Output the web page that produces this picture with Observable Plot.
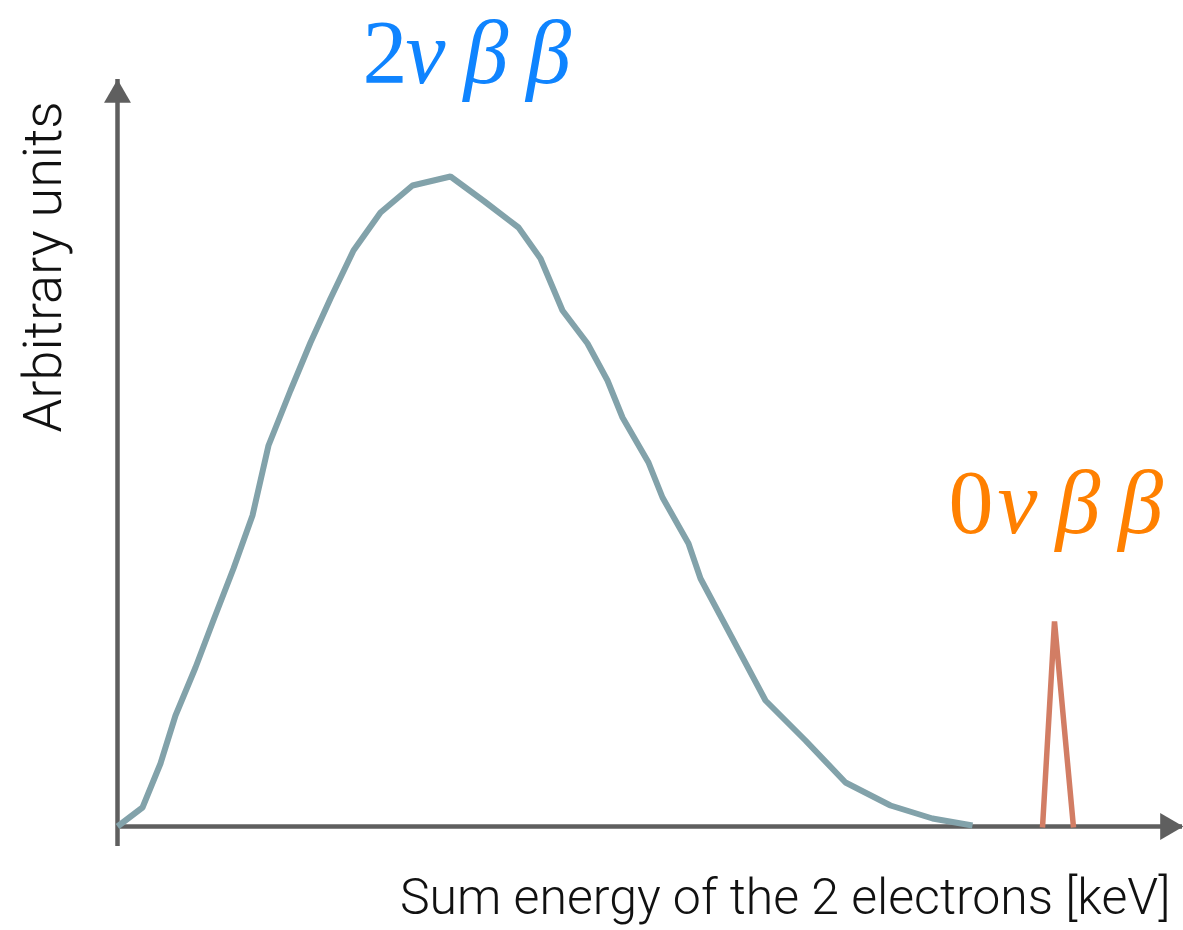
<!DOCTYPE html>
<html><head><meta charset="utf-8">
<script src="https://cdn.jsdelivr.net/npm/d3@7"></script>
<script src="https://cdn.jsdelivr.net/npm/@observablehq/plot@0.6"></script>
<style>
html,body{margin:0;padding:0;background:#fff;overflow:hidden}
.greek text{letter-spacing:18px}
</style>
</head><body><div id="chart"></div>
<script>
// 2νββ continuous spectrum (arbitrary energy units, arbitrary counts)
const energy2nu = [0, 25, 43, 58, 78, 97, 116, 135, 151, 173, 193, 213, 236, 263, 295, 333, 367, 401, 423, 445, 470, 490, 505, 531, 545, 571, 583, 648, 688, 728, 773, 815, 855];
const counts2nu = [0, 19, 63, 111, 159, 209, 258, 311, 381, 436, 484, 528, 576, 614, 641, 650, 625, 599, 568, 516, 483, 446, 409, 364, 329, 283, 248, 126, 86, 44, 21, 8, 1];
// 0νββ peak at the endpoint
const energy0nu = [925, 937, 956];
const counts0nu = [-1, 205, -1];
// axis extents (arrow tips)
const xAxisMax = 1066;
const yAxisMax = 747;
const xLabel = "Sum energy of the 2 electrons [keV]";
const yLabel = "Arbitrary units";
const label2nu = ["2", "νββ"];
const label0nu = ["0", "νββ"];

const curve = energy2nu.map((e, i) => ({e, c: counts2nu[i]}));
const spike = energy0nu.map((e, i) => ({e, c: counts0nu[i]}));

const axisColor = "#5f5f5f";
const arrowR = 10;
const arrowOffset = 2 * Math.sqrt((arrowR * arrowR * Math.PI) / (3 * Math.sqrt(3)));

const mathFont = "'Liberation Serif', 'DejaVu Serif', serif";
const sansFont = "Roboto, 'Liberation Sans', sans-serif";

const chart = Plot.plot({
  width: 1183,
  height: 930,
  margin: 0,
  style: {background: "#fff", overflow: "visible"},
  x: {domain: [0, xAxisMax], range: [117, 1183], axis: null},
  y: {domain: [0, yAxisMax], range: [826, 79], axis: null},
  marks: [
    // axes
    Plot.ruleY([0], {x1: 0, x2: xAxisMax, stroke: axisColor, strokeWidth: 4.5, insetRight: 1}),
    Plot.ruleX([0], {y1: -2, y2: yAxisMax, stroke: axisColor, strokeWidth: 4.5, insetTop: 18}),
    Plot.dot([{e: xAxisMax, c: 0}], {x: "e", y: "c", symbol: "triangle", r: arrowR, fill: axisColor, stroke: "none", rotate: 90, dx: -arrowOffset}),
    Plot.dot([{e: 0, c: yAxisMax}], {x: "e", y: "c", symbol: "triangle", r: arrowR, fill: axisColor, stroke: "none", dy: arrowOffset}),
    // spectra
    Plot.line(curve, {x: "e", y: "c", stroke: "#82a2aa", strokeWidth: 6, strokeLinejoin: "miter", strokeLinecap: "butt"}),
    Plot.line(spike, {x: "e", y: "c", stroke: "#d27d64", strokeWidth: 5.5, strokeLinejoin: "bevel", strokeLinecap: "butt"}),
    // math labels
    Plot.text([label2nu[0]], {frameAnchor: "top-left", dx: 362, dy: 82, text: d => d, textAnchor: "start", lineAnchor: "bottom", fontSize: 90, fill: "#0f84ff", fontFamily: mathFont}),
    Plot.text([label2nu[1]], {frameAnchor: "top-left", dx: 405, dy: 82, text: d => d, textAnchor: "start", lineAnchor: "bottom", fontSize: 90, fontStyle: "italic", fill: "#0f84ff", fontFamily: mathFont, className: "greek"}),
    Plot.text([label0nu[0]], {frameAnchor: "top-left", dx: 948, dy: 532, text: d => d, textAnchor: "start", lineAnchor: "bottom", fontSize: 90, fill: "#ff8000", fontFamily: mathFont}),
    Plot.text([label0nu[1]], {frameAnchor: "top-left", dx: 997, dy: 532, text: d => d, textAnchor: "start", lineAnchor: "bottom", fontSize: 90, fontStyle: "italic", fill: "#ff8000", fontFamily: mathFont, className: "greek"}),
    // axis titles
    Plot.text([xLabel], {frameAnchor: "top-left", dx: 1170, dy: 913, text: d => d, textAnchor: "end", lineAnchor: "bottom", fontSize: 50, fontWeight: 300, fill: "#111", fontFamily: sansFont}),
    Plot.text([yLabel], {frameAnchor: "top-left", dx: 60, dy: 432, text: d => d, rotate: -90, textAnchor: "start", lineAnchor: "bottom", fontSize: 54, fontWeight: 300, fill: "#111", fontFamily: sansFont})
  ]
});
document.getElementById("chart").appendChild(chart);
</script>
</body></html>
